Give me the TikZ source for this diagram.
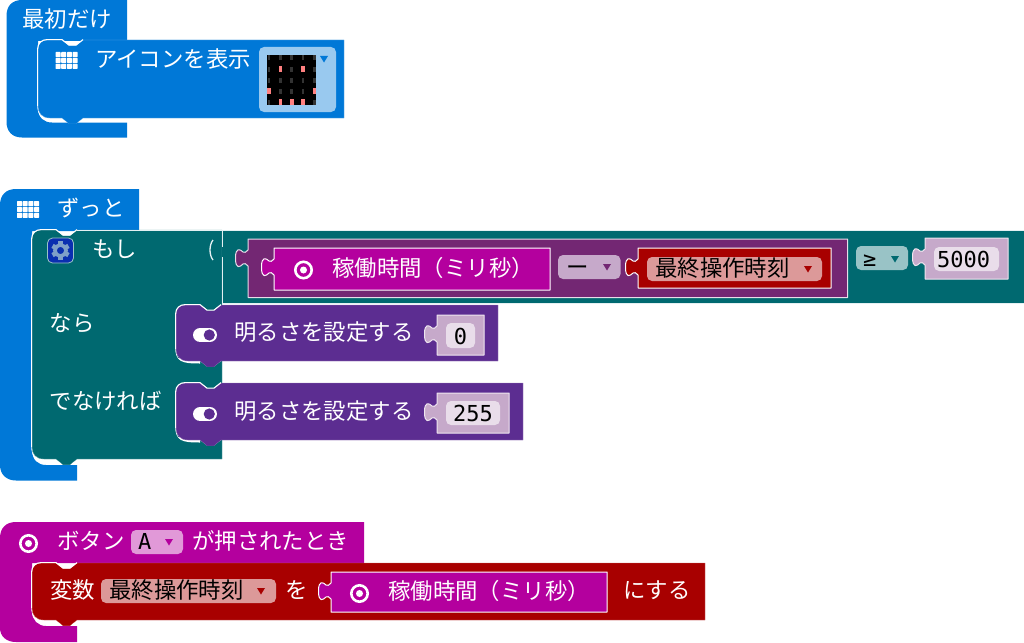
\documentclass[tikz,border=0pt]{standalone}
\usepackage{fontspec}
\newfontfamily\cjk{Noto Sans CJK JP}
\newfontfamily\mono{DejaVu Sans Mono}
\definecolor{cblue}{HTML}{0078D7}
\definecolor{cteal}{HTML}{006970}
\definecolor{cpurple}{HTML}{5C2D91}
\definecolor{cmag}{HTML}{B4009E}
\definecolor{cred}{HTML}{A80000}
\definecolor{cminus}{HTML}{732773}
\definecolor{clightp}{HTML}{C6A9CA}
\definecolor{cfield}{HTML}{E9DDEA}
\definecolor{dblue}{HTML}{99C9EF}
\definecolor{dteal}{HTML}{99C3C6}
\definecolor{dred}{HTML}{DC9999}
\definecolor{dmag}{HTML}{E199D8}
\definecolor{hl}{HTML}{E4F0F2}
\definecolor{ledon}{HTML}{FF8080}
\definecolor{ledoff}{HTML}{333333}
\definecolor{gearc}{HTML}{7FA0C8}
\definecolor{gearbg}{HTML}{0A2FB0}
\tikzset{
  txt/.style={inner sep=0pt,anchor=west,text=white,text height=19.4pt,text depth=2.6pt,font=\fontsize{22.4}{26}\cjk},
  dtxt/.style={txt,text=black},
  num/.style={inner sep=0pt,anchor=center,text=black,font=\fontsize{22}{26}\mono},
}
% statement block: x0 y0 x1 y1 colour
\newcommand\stmtblock[5]{%
  \fill[white] (#1-0.8,#4-14) .. controls (#1-0.8,#4+1) and (#1+6,#4+2.5) .. (#1+24,#4+2.5) -- (#1+24,#4-3) -- (#1+2,#4-3) -- cycle;
  \filldraw[fill=#5,draw=#5!60!white,line width=.35pt] (#1,#2+9) .. controls (#1,#2+3) and (#1+4,#2) .. (#1+9,#2) -- (#1+24,#2) -- (#1+31,#2+5.5) -- (#1+38,#2+5.5) -- (#1+45,#2) -- (#3,#2) -- (#3,#4) -- (#1+45,#4) -- (#1+38,#4+5.5) -- (#1+31,#4+5.5) -- (#1+24,#4) -- (#1+12,#4) .. controls (#1+4,#4) and (#1,#4-5) .. (#1,#4-12) -- cycle;
  \fill[#5] (#1+24,#4-1) -- (#1+45,#4-1) -- (#1+38,#4+5.5) -- (#1+31,#4+5.5) -- cycle;
  \draw[white,line width=1.1pt] (#1-.4,#4-12) -- (#1-.4,#2+9) .. controls (#1-.4,#2+3) and (#1+4,#2-.4) .. (#1+9,#2-.4) -- (#1+24,#2-.4) -- (#1+31,#2+5.1) -- (#1+38,#2+5.1) -- (#1+45,#2-.4);
}
% reporter: x0 y0 x1 y1 fill border
\newcommand\reporter[6]{%
  \filldraw[fill=#5,draw=#6,line width=1pt,line join=round] (#1,#2) -- (#3,#2) -- (#3,#4) -- (#1,#4) -- (#1,#2+27)
    .. controls (#1-2,#2+24.5) and (#1-3.5,#2+24) .. (#1-5,#2+25)
    .. controls (#1-8,#2+28) and (#1-12.5,#2+31) .. (#1-12.5,#2+19)
    .. controls (#1-12.5,#2+8) and (#1-8,#2+10) .. (#1-5,#2+13)
    .. controls (#1-3.5,#2+14) and (#1-2,#2+13.5) .. (#1,#2+11) -- cycle;
}
\newcommand\dropfield[5]{\fill[#5,rounded corners=5pt] (#1,#2) rectangle (#3,#4);}
\newcommand\dtri[3]{\fill[#3] (#1,#2) -- (#1+8,#2) -- (#1+4,#2+6.5) -- cycle;}
\newcommand\gridicon[2]{\foreach \i in {0,1,2,3}\foreach \j in {0,1,2}{\fill[white,rounded corners=.6pt] (#1+\i*5.7,#2+\j*5.9) rectangle ++(5,5.1);}}
\newcommand\radioicon[2]{\draw[white,line width=2.6pt] (#1,#2) circle (8.2pt);\fill[white] (#1,#2) circle (3.5pt);}
\newcommand\toggleicon[2]{\draw[white,line width=14.6pt,line cap=round] (#1+7.3,#2) -- (#1+16.7,#2);\fill[cpurple] (#1+16.3,#2) circle (5.6pt);}
\begin{document}
\begin{tikzpicture}[x=1pt,y=-1pt]
\useasboundingbox (0,0) rectangle (1024,642);
% ---------- first block
\fill[cblue] (6.5,16) .. controls (6.5,6) and (12,0) .. (22,0) -- (127,0) -- (127,41) -- (38,41) -- (38,108) .. controls (38,118) and (44,122.5) .. (52,122.5) -- (127,122.5) -- (127,137.5) -- (22,137.5) .. controls (12,137.5) and (6.5,131) .. (6.5,122) -- cycle;
\node[txt] (onstart) at (22,19) {最初だけ};
\stmtblock{38}{40}{344}{118}{cblue}
\gridicon{55.5}{52}
\node[txt] (showicon) at (95,59) {アイコンを表示};
\dropfield{259}{47}{336}{112}{dblue}
\fill[black] (267,55) rectangle (316,104.5);
\foreach \c in {269,280.3,291.7,303,314.3}\foreach \r in {57.5,69,80,91,102}{\fill[ledoff] (\c-1.3,\r-2.5) rectangle (\c+1.3,\r+2.5);}
\foreach \c/\r in {280.3/69,303/69,269/91,314.3/91,280.3/102,291.7/102,303/102}{\fill[ledon] (\c-1.8,\r-3) rectangle (\c+1.8,\r+3);}
\dtri{320}{56}{cblue}
% ---------- forever block
\fill[cblue] (0,205) .. controls (0,195) and (6,189) .. (16,189) -- (139,189) -- (139,231) -- (32,231) -- (32,450) .. controls (32,460) and (38,465) .. (46,465) -- (77,465) -- (77,480.5) -- (16,480.5) .. controls (6,480.5) and (0,474) .. (0,465) -- cycle;
\gridicon{17}{201}
\node[txt] (forever) at (57,208) {ずっと};
% if body
\stmtblock{32}{230}{222}{459}{cteal}
% condition band
\fill[cteal] (222,230) rectangle (1024,303.5);
\draw[hl,line width=.6pt] (77,230) -- (222,230);
\draw[hl,line width=.6pt] (222,303.7) -- (1024,303.7);
\draw[hl,line width=.6pt] (222,229.8) -- (1024,229.8);
\draw[hl,line width=1pt] (222.5,230) -- (222.5,247) (222.5,257) -- (222.5,306);
\draw[hl,line width=1.3pt] (213,240) .. controls (209,245) and (209,255) .. (213,260);
% gear
\filldraw[fill=gearbg,draw=cteal!40!white,line width=.8pt,rounded corners=5pt] (47.5,238) rectangle (73.5,263);
\foreach \a in {0,60,120,180,240,300}{\fill[gearc,rotate around={\a:(60.5,250.5)}] (58.2,241.3) rectangle (62.8,245);}
\draw[gearc,line width=3.6pt] (60.5,250.5) circle (5.6pt);
\node[txt] (iflabel) at (92,249) {もし};
\node[txt] (thenlabel) at (49.5,323) {なら};
\node[txt] (elselabel) at (49.5,401) {でなければ};
% minus block
\reporter{248}{239}{847.5}{297.5}{cminus}{clightp!40!white}
\reporter{274}{248}{550}{290}{cmag}{white}
\radioicon{303.5}{270}
\node[txt] (runtime1) at (332,268) {稼働時間（ミリ秒）};
\dropfield{558}{255}{620.5}{279}{clightp}
\node[dtxt] (minus) at (566,267) {ー};
\dtri{603}{264}{cminus}
\reporter{638}{248}{831}{288}{cred}{white}
\dropfield{647}{257}{822}{281}{dred}
\node[dtxt] (lastop1) at (655,268) {最終操作時刻};
\dtri{804}{266}{cred}
% compare
\dropfield{856}{246}{908}{270}{dteal}
\node[dtxt,font=\fontsize{22}{26}\mono] (geq) at (863,258) {≥};
\dtri{891}{256}{cteal}
\reporter{925}{238}{1008}{279}{clightp}{clightp!30!white}
\dropfield{934}{247}{999}{271}{cfield}
\node[num] (n5000) at (963.5,259) {5000};
% brightness 1
\stmtblock{176}{305}{498}{361}{cpurple}
\toggleicon{193}{335}
\node[txt] (bright1) at (234,332) {明るさを設定する};
\reporter{437}{315}{484}{355}{clightp}{clightp!30!white}
\dropfield{446}{323}{475}{348}{cfield}
\node[num] (n0) at (460.5,336) {0};
% brightness 2
\stmtblock{176}{383}{523}{440}{cpurple}
\toggleicon{193}{414}
\node[txt] (bright2) at (234,411) {明るさを設定する};
\reporter{437}{393}{509}{433}{clightp}{clightp!30!white}
\dropfield{446}{401}{500}{425}{cfield}
\node[num] (n255) at (473,413) {255};
% ---------- button block
\fill[cmag] (0,538) .. controls (0,528) and (6,522) .. (16,522) -- (364,522) -- (364,563) -- (32,563) -- (32,612) .. controls (32,620) and (38,626) .. (46,626) -- (77,626) -- (77,642) -- (16,642) .. controls (6,642) and (0,636) .. (0,628) -- cycle;
\radioicon{28.5}{543.5}
\node[txt] (btn) at (57,541) {ボタン};
\dropfield{131}{530}{183}{554}{dmag}
\node[dtxt,font=\fontsize{22}{26}\mono] (btnA) at (138,541) {A};
\dtri{165}{539}{cmag}
\node[txt] (pressed) at (192,541) {が押されたとき};
\stmtblock{32}{563}{705}{620}{cred}
\node[txt] (var) at (50,590) {変数};
\dropfield{101}{579}{276}{603}{dred}
\node[dtxt] (lastop2) at (109,590) {最終操作時刻};
\dtri{257}{588}{cred}
\node[txt] (wo) at (285,590) {を};
\reporter{331}{572}{607}{612}{cmag}{white}
\radioicon{359.5}{593.5}
\node[txt] (runtime2) at (388,591) {稼働時間（ミリ秒）};
\node[txt] (nisuru) at (623,590) {にする};
\end{tikzpicture}
\end{document}
